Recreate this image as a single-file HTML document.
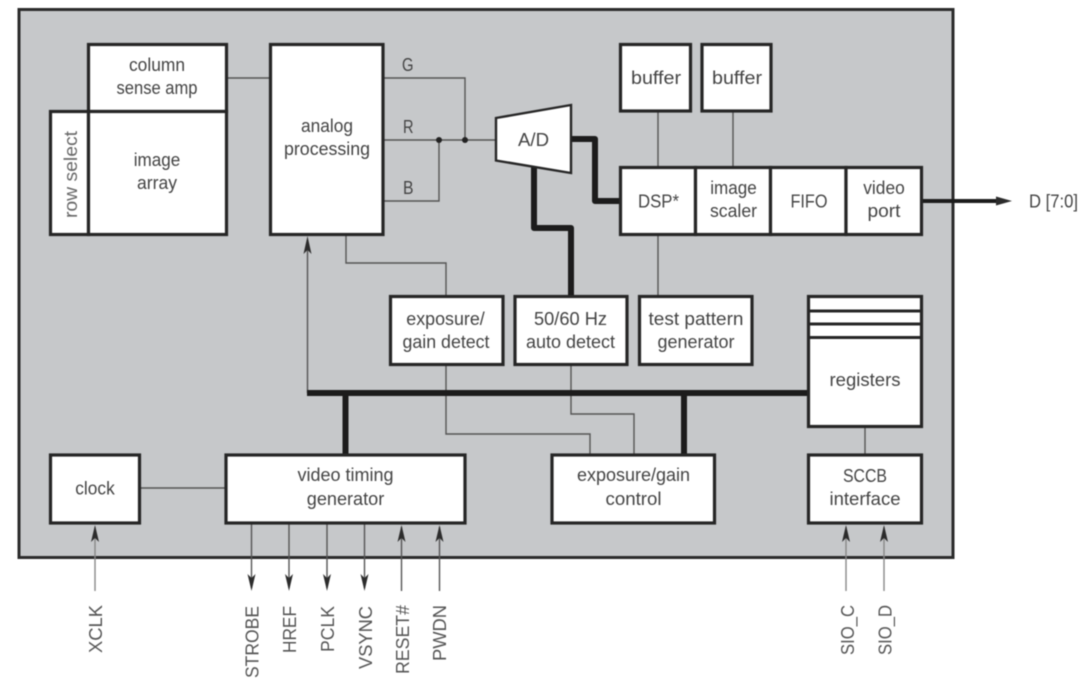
<!DOCTYPE html>
<html><head><meta charset="utf-8"><style>
html,body{margin:0;padding:0;background:#fff;width:1082px;height:684px;overflow:hidden}
svg{display:block;filter:blur(.45px)}
text{font-family:"Liberation Sans",sans-serif;font-size:18px;fill:#444}
.c{text-anchor:middle}
.b{fill:#fff;stroke:#262626;stroke-width:3.2}
.t{fill:none;stroke:#555;stroke-width:1.4}
.g{fill:none;stroke:#888;stroke-width:1.4}
.k{fill:none;stroke:#1c1c1c;stroke-width:6;stroke-linejoin:round;stroke-linecap:butt}
.a{fill:#2c2c2c}
</style></head><body>
<svg width="1082" height="684" viewBox="0 0 1082 684" xmlns="http://www.w3.org/2000/svg">
<rect x="19" y="9.500" width="934" height="548" fill="#c6c8ca" stroke="#2c2c2c" stroke-width="3"/>

<!-- thin connectors -->
<path class="t" d="M227 78H271M383 78H465V140M383 140H496M383 201H439V140"/>
<path class="t" d="M346 235V263H446V296M658 111V167M733 111V167M658 235V296"/>
<path class="t" d="M446 365V434H590V455M571 365V414H634V455M865 427V455M139 488H226"/>
<path class="t" d="M307.500 393V240"/>
<path class="t" d="M251.500 523V588M289 523V588M327 523V588M364.500 523V588M401.500 527V591M439.500 527V591"/>
<path class="g" d="M95 527V591M846 527V591M884 527V591"/>
<circle cx="439" cy="140" r="3" fill="#222"/><circle cx="465" cy="140" r="3" fill="#222"/>

<!-- thick buses -->
<path class="k" d="M571 139H595V201H620"/>
<path class="k" d="M534 167V228H571V296"/>
<path class="k" d="M307 393H808" stroke-linecap="round"/>
<path class="k" d="M345.500 393V455M684 393V455"/>
<path class="k" d="M921 201H1000" style="stroke-width:4"/>
<path class="a" d="M1012 201L996 196.500V205.500Z"/>

<!-- arrowheads -->
<path class="a" d="M307.500 236L303.500 254L307.500 250L311.500 254Z"/>
<path class="a" d="M95 525L91 542L95 538L99 542Z"/>
<path class="a" d="M401.500 525L397.500 542L401.500 538L405.500 542Z"/>
<path class="a" d="M439.500 525L435.500 542L439.500 538L443.500 542Z"/>
<path class="a" d="M846 525L842 542L846 538L850 542Z"/>
<path class="a" d="M884 525L880 542L884 538L888 542Z"/>
<path class="a" d="M251.500 591L247.500 574L251.500 578L255.500 574Z"/>
<path class="a" d="M289 591L285 574L289 578L293 574Z"/>
<path class="a" d="M327 591L323 574L327 578L331 574Z"/>
<path class="a" d="M364.500 591L360.500 574L364.500 578L368.500 574Z"/>

<!-- boxes -->
<rect class="b" x="88.500" y="44.500" width="138" height="67"/>
<rect class="b" x="50.500" y="111.500" width="38" height="123"/>
<rect class="b" x="88.500" y="111.500" width="138" height="123"/>
<rect class="b" x="270.500" y="44.500" width="112.500" height="190"/>
<polygon class="b" points="496,118 571,105 571,173 496,160.500" style="stroke-width:2.400"/>
<rect class="b" x="620.500" y="44.500" width="70" height="66.500"/>
<rect class="b" x="702" y="44.500" width="69" height="66.500"/>
<rect class="b" x="620.500" y="167.500" width="75" height="67"/>
<rect class="b" x="695.500" y="167.500" width="75" height="67"/>
<rect class="b" x="770.500" y="167.500" width="75.500" height="67"/>
<rect class="b" x="846" y="167.500" width="75.500" height="67"/>
<rect class="b" x="390.500" y="296.500" width="112.500" height="68"/>
<rect class="b" x="515" y="296.500" width="112" height="68"/>
<rect class="b" x="639.500" y="296.500" width="112.500" height="68"/>
<rect class="b" x="808.500" y="296.500" width="113" height="130"/>
<path d="M808.500 311H921.500M808.500 324H921.500M808.500 337.500H921.500" stroke="#262626" stroke-width="3" fill="none"/>
<rect class="b" x="50.500" y="455" width="89" height="68"/>
<rect class="b" x="226" y="455" width="239" height="68"/>
<rect class="b" x="552" y="455" width="162.500" height="68"/>
<rect class="b" x="808.500" y="455" width="113" height="68"/>

<!-- labels -->
<text class="c" x="157" y="71" textLength="56" lengthAdjust="spacingAndGlyphs">column</text>
<text class="c" x="157" y="94" textLength="81" lengthAdjust="spacingAndGlyphs">sense amp</text>
<text class="c" x="157" y="166" textLength="46.500" lengthAdjust="spacingAndGlyphs">image</text>
<text class="c" x="157" y="189" textLength="40" lengthAdjust="spacingAndGlyphs">array</text>
<text class="c" x="327" y="132" textLength="52" lengthAdjust="spacingAndGlyphs">analog</text>
<text class="c" x="327" y="155" textLength="86" lengthAdjust="spacingAndGlyphs">processing</text>
<text x="402" y="71" textLength="11.500" lengthAdjust="spacingAndGlyphs">G</text>
<text x="403" y="133" textLength="10.500" lengthAdjust="spacingAndGlyphs">R</text>
<text x="403" y="194" textLength="10.500" lengthAdjust="spacingAndGlyphs">B</text>
<text class="c" x="533.500" y="146" textLength="31" lengthAdjust="spacingAndGlyphs">A/D</text>
<text class="c" x="656" y="84" textLength="50" lengthAdjust="spacingAndGlyphs">buffer</text>
<text class="c" x="737" y="84" textLength="50" lengthAdjust="spacingAndGlyphs">buffer</text>
<text class="c" x="658.500" y="207.500" textLength="41" lengthAdjust="spacingAndGlyphs">DSP*</text>
<text class="c" x="733.500" y="194" textLength="46.500" lengthAdjust="spacingAndGlyphs">image</text>
<text class="c" x="733.500" y="217" textLength="47" lengthAdjust="spacingAndGlyphs">scaler</text>
<text class="c" x="809" y="207.500" textLength="37" lengthAdjust="spacingAndGlyphs">FIFO</text>
<text class="c" x="884" y="194" textLength="41.500" lengthAdjust="spacingAndGlyphs">video</text>
<text class="c" x="884" y="217" textLength="33" lengthAdjust="spacingAndGlyphs">port</text>
<text x="1029" y="207.500" textLength="49" lengthAdjust="spacingAndGlyphs">D [7:0]</text>
<text class="c" x="445.500" y="325" textLength="78.500" lengthAdjust="spacingAndGlyphs">exposure/</text>
<text class="c" x="446" y="348" textLength="87" lengthAdjust="spacingAndGlyphs">gain detect</text>
<text class="c" x="570.500" y="325" textLength="73" lengthAdjust="spacingAndGlyphs">50/60 Hz</text>
<text class="c" x="570.500" y="348" textLength="89" lengthAdjust="spacingAndGlyphs">auto detect</text>
<text class="c" x="696" y="325" textLength="95" lengthAdjust="spacingAndGlyphs">test pattern</text>
<text class="c" x="696" y="348" textLength="77" lengthAdjust="spacingAndGlyphs">generator</text>
<text class="c" x="865" y="386" textLength="71" lengthAdjust="spacingAndGlyphs">registers</text>
<text class="c" x="865" y="482" textLength="44" lengthAdjust="spacingAndGlyphs">SCCB</text>
<text class="c" x="865" y="505" textLength="71" lengthAdjust="spacingAndGlyphs">interface</text>
<text class="c" x="633.500" y="481" textLength="113" lengthAdjust="spacingAndGlyphs">exposure/gain</text>
<text class="c" x="633.500" y="505" textLength="56" lengthAdjust="spacingAndGlyphs">control</text>
<text class="c" x="345.500" y="481" textLength="96" lengthAdjust="spacingAndGlyphs">video timing</text>
<text class="c" x="345.500" y="505" textLength="77.500" lengthAdjust="spacingAndGlyphs">generator</text>
<text class="c" x="95" y="494.500" textLength="39.500" lengthAdjust="spacingAndGlyphs">clock</text>

<!-- rotated labels -->
<text transform="translate(77 218) rotate(-90)" textLength="87" lengthAdjust="spacingAndGlyphs" style="fill:#666">row select</text>
<text transform="translate(102 653) rotate(-90)" textLength="48" lengthAdjust="spacingAndGlyphs" style="fill:#555">XCLK</text>
<text transform="translate(258.500 678) rotate(-90)" textLength="72" lengthAdjust="spacingAndGlyphs" style="fill:#555">STROBE</text>
<text transform="translate(296 653) rotate(-90)" textLength="47" lengthAdjust="spacingAndGlyphs" style="fill:#555">HREF</text>
<text transform="translate(334 652) rotate(-90)" textLength="46" lengthAdjust="spacingAndGlyphs" style="fill:#555">PCLK</text>
<text transform="translate(372 669) rotate(-90)" textLength="63" lengthAdjust="spacingAndGlyphs" style="fill:#555">VSYNC</text>
<text transform="translate(409 674) rotate(-90)" textLength="69" lengthAdjust="spacingAndGlyphs" style="fill:#555">RESET#</text>
<text transform="translate(446 661) rotate(-90)" textLength="56" lengthAdjust="spacingAndGlyphs" style="fill:#555">PWDN</text>
<text transform="translate(854 655) rotate(-90)" textLength="50" lengthAdjust="spacingAndGlyphs" style="fill:#555">SIO_C</text>
<text transform="translate(891.500 655) rotate(-90)" textLength="50" lengthAdjust="spacingAndGlyphs" style="fill:#555">SIO_D</text>
</svg>
</body></html>
